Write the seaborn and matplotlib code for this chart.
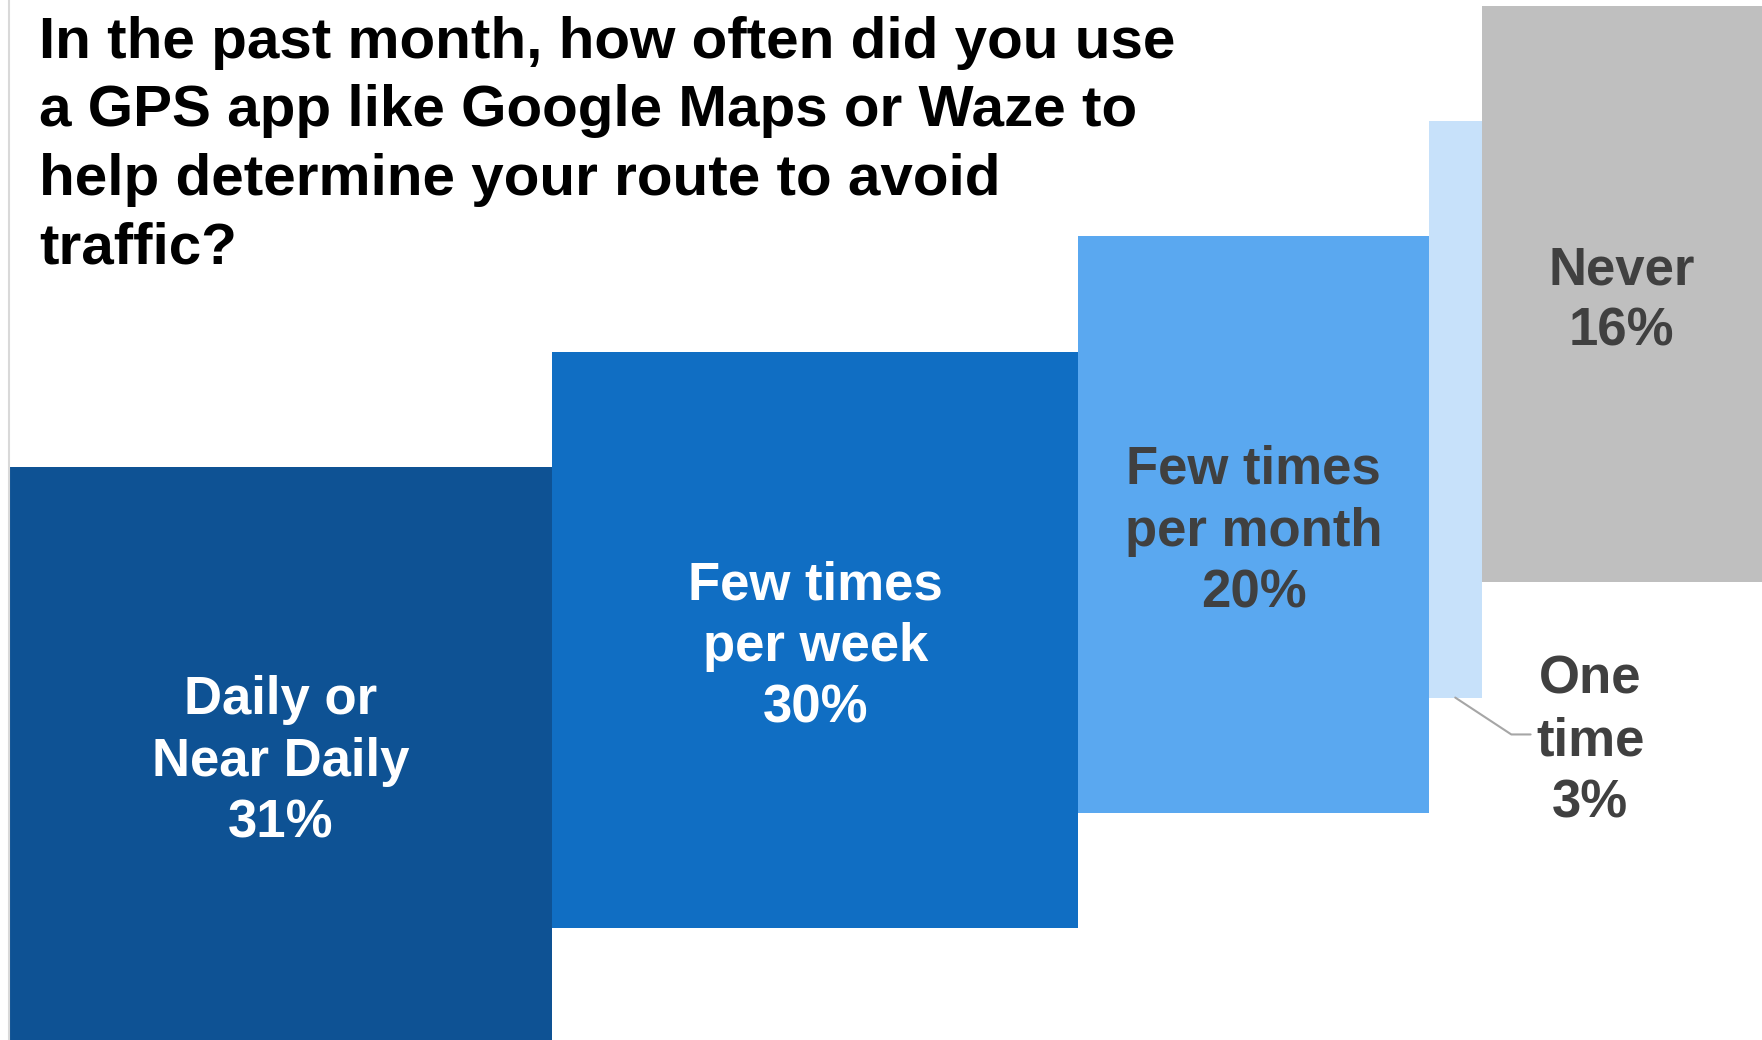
"""
Stepped block chart: how often people used a GPS app in the past month.
"""
import numpy as np
import matplotlib.pyplot as plt
import seaborn as sns

sns.set_theme(style="white")
plt.rcParams['font.family'] = ['Liberation Sans', 'DejaVu Sans']

# data
categories = ["Daily or\nNear Daily", "Few times\nper week", "Few times\nper month", "One\ntime", "Never"]
shares = [31, 30, 20, 3, 16]
bar_colors = ["#0E5294", "#106EC3", "#5AA8F0", "#C7E1FA", "#BFBFBF"]
text_colors = ["white", "white", "#404040", "#404040", "#404040"]
title = ("In the past month, how often did you use\n"
         "a GPS app like Google Maps or Waze to\n"
         "help determine your route to avoid\n"
         "traffic?")

BLOCK = 5  # height of every block, in steps

lefts = np.concatenate([[0], np.cumsum(shares)[:-1]])
bottoms = np.arange(len(shares))

fig = plt.figure(figsize=(17.62, 10.40), dpi=100)
ax = fig.add_axes([9 / 1762, 0, 1 - 9 / 1762, 1])

ax.bar(lefts, BLOCK, width=shares, bottom=bottoms, align="edge",
       color=bar_colors, linewidth=0)

for i, (cat, s) in enumerate(zip(categories, shares)):
    xc = lefts[i] + s / 2
    txt = f"{cat}\n{s}%"
    if s < 5:
        # small block: label outside with a leader line
        ax.plot([xc, xc + 3.2, xc + 4.3], [bottoms[i], bottoms[i] - 0.32, bottoms[i] - 0.32],
                color="#A6A6A6", lw=1.5)
        ax.text(xc + 7.7, bottoms[i] - 0.38, txt, ha="center", va="center",
                color=text_colors[i], fontsize=38, fontweight="bold", linespacing=1.3)
    else:
        ax.text(xc, bottoms[i] + BLOCK / 2 - 0.06, txt, ha="center", va="center",
                color=text_colors[i], fontsize=38, fontweight="bold", linespacing=1.3)

ax.set_xlim(0, 100)
ax.set_ylim(0.03, 9.05)
ax.set_xticks([])
ax.set_yticks([])
for side in ["top", "right", "bottom"]:
    ax.spines[side].set_visible(False)
ax.spines["left"].set_color("#D9D9D9")
ax.spines["left"].set_linewidth(1.5)
ax.patch.set_alpha(0)

fig.text(39 / 1762, 0.985, title, ha="left", va="top", fontsize=42,
         fontweight="bold", color="black", linespacing=1.35)

plt.savefig("out.png", dpi=100)
plt.close("all")
